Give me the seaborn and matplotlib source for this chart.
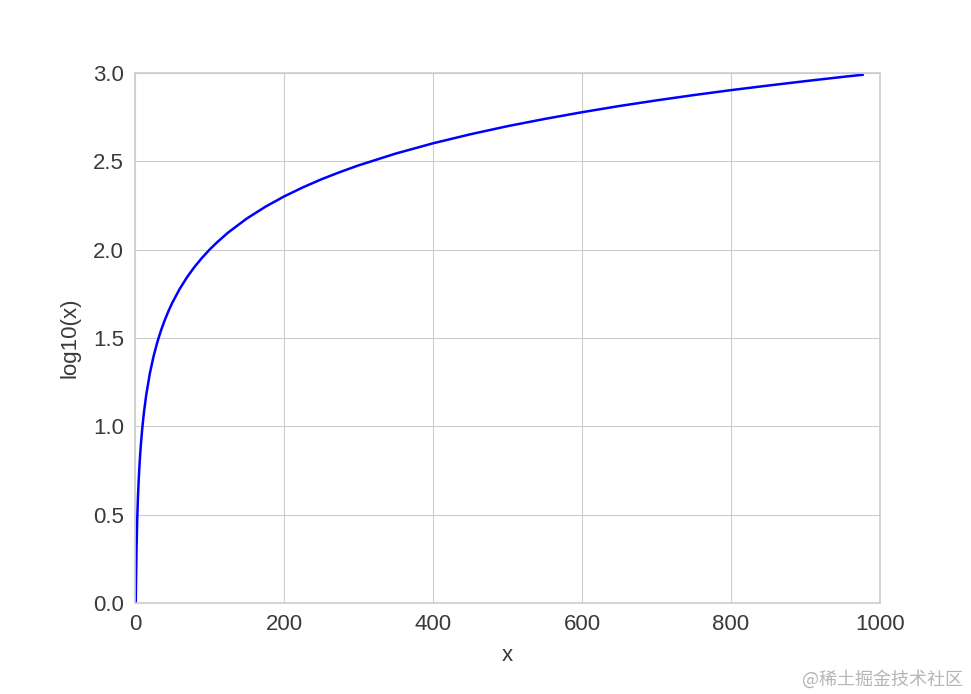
import matplotlib
matplotlib.use("Agg")
import matplotlib.pyplot as plt
import seaborn as sns
import pandas as pd

# values
x_vals = [1, 2, 3, 4, 5, 6, 7, 8, 10, 12, 15, 20, 25, 30, 35, 40, 45, 50, 60, 70,
          80, 90, 100, 110, 125, 150, 175, 200, 225, 250, 275, 300, 350, 400,
          450, 500, 550, 600, 650, 700, 750, 800, 850, 900, 950, 977]
y_vals = [0.000, 0.301, 0.477, 0.602, 0.699, 0.778, 0.845, 0.903, 1.000, 1.079,
          1.176, 1.301, 1.398, 1.477, 1.544, 1.602, 1.653, 1.699, 1.778, 1.845,
          1.903, 1.954, 2.000, 2.041, 2.097, 2.176, 2.243, 2.301, 2.352, 2.398,
          2.439, 2.477, 2.544, 2.602, 2.653, 2.699, 2.740, 2.778, 2.813, 2.845,
          2.875, 2.903, 2.929, 2.954, 2.978, 2.990]
x_ticks = [0, 200, 400, 600, 800, 1000]
y_ticks = [0.0, 0.5, 1.0, 1.5, 2.0, 2.5, 3.0]

df = pd.DataFrame({"x": x_vals, "log10(x)": y_vals})

sns.set_style("whitegrid", {"grid.color": "#cccccc", "axes.edgecolor": "#cccccc"})
plt.rcParams["font.family"] = ["Liberation Sans", "DejaVu Sans"]

fig = plt.figure(figsize=(9.71, 6.94), dpi=100)
ax = fig.add_axes([135 / 971, 91 / 694, 745 / 971, 530 / 694])

sns.lineplot(data=df, x="x", y="log10(x)", color="#0000ff", linewidth=1.8, ax=ax)

ax.set_xlim(0, 1000)
ax.set_ylim(0, 3.0)
ax.set_xticks(x_ticks)
ax.set_yticks(y_ticks)
ax.set_xticklabels([str(t) for t in x_ticks])
ax.set_yticklabels([f"{t:.1f}" for t in y_ticks])
ax.tick_params(labelsize=16, colors="#3a3a3a", length=0, pad=8)
ax.set_xlabel("x", fontsize=16, color="#3a3a3a", labelpad=7)
ax.set_ylabel("log10(x)", fontsize=16, color="#3a3a3a", labelpad=9)
for s in ax.spines.values():
    s.set_color("#cccccc")
    s.set_linewidth(1.2)

fig.text(0.992, 0.008, "@稀土掘金技术社区", ha="right", va="bottom", fontsize=13,
         color="#b5b5b5", family=["Noto Sans CJK SC", "DejaVu Sans"])

fig.savefig("out.png", dpi=100)
